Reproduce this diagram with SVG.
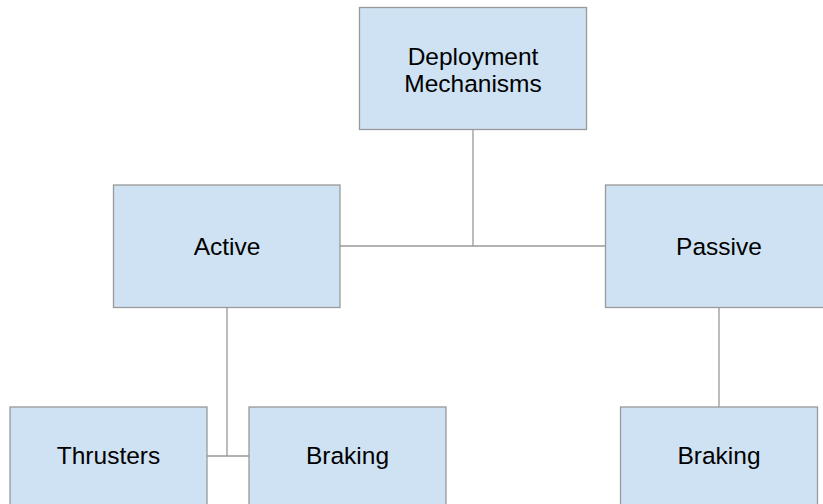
<svg xmlns="http://www.w3.org/2000/svg" width="823" height="504" viewBox="0 0 823 504">
  <style>
    .box { fill: #cfe2f3; stroke: #999999; stroke-width: 1.3; }
    .lbl { font-family: "Liberation Sans", Arial, sans-serif; font-size: 24.5px; fill: #000000; text-anchor: middle; }
    .edge { fill: none; stroke: #999999; stroke-width: 1.3; }
  </style>
  <rect width="823" height="504" fill="#ffffff"/>
  <g id="connectors">
    <path class="edge" d="M473 129.5 V246 M340 246 H605.5"/>
    <path class="edge" d="M227 307.5 V456 M207 456 H249"/>
    <path class="edge" d="M719 307.5 V407"/>
  </g>
  <g id="deployment-mechanisms">
    <rect class="box" x="359.5" y="7.5" width="227" height="122"/>
    <text class="lbl" x="473" y="64.5">Deployment</text>
    <text class="lbl" x="473" y="91.5">Mechanisms</text>
  </g>
  <g id="active">
    <rect class="box" x="113.5" y="185" width="226.5" height="122.5"/>
    <text class="lbl" x="227" y="254.5">Active</text>
  </g>
  <g id="passive">
    <rect class="box" x="605.5" y="185" width="227" height="122.5"/>
    <text class="lbl" x="719" y="254.5">Passive</text>
  </g>
  <g id="thrusters">
    <rect class="box" x="10" y="407" width="197" height="110"/>
    <text class="lbl" x="108.5" y="464">Thrusters</text>
  </g>
  <g id="active-braking">
    <rect class="box" x="249" y="407" width="197" height="110"/>
    <text class="lbl" x="347.5" y="464">Braking</text>
  </g>
  <g id="passive-braking">
    <rect class="box" x="620.5" y="407" width="197" height="110"/>
    <text class="lbl" x="719" y="464">Braking</text>
  </g>
</svg>
